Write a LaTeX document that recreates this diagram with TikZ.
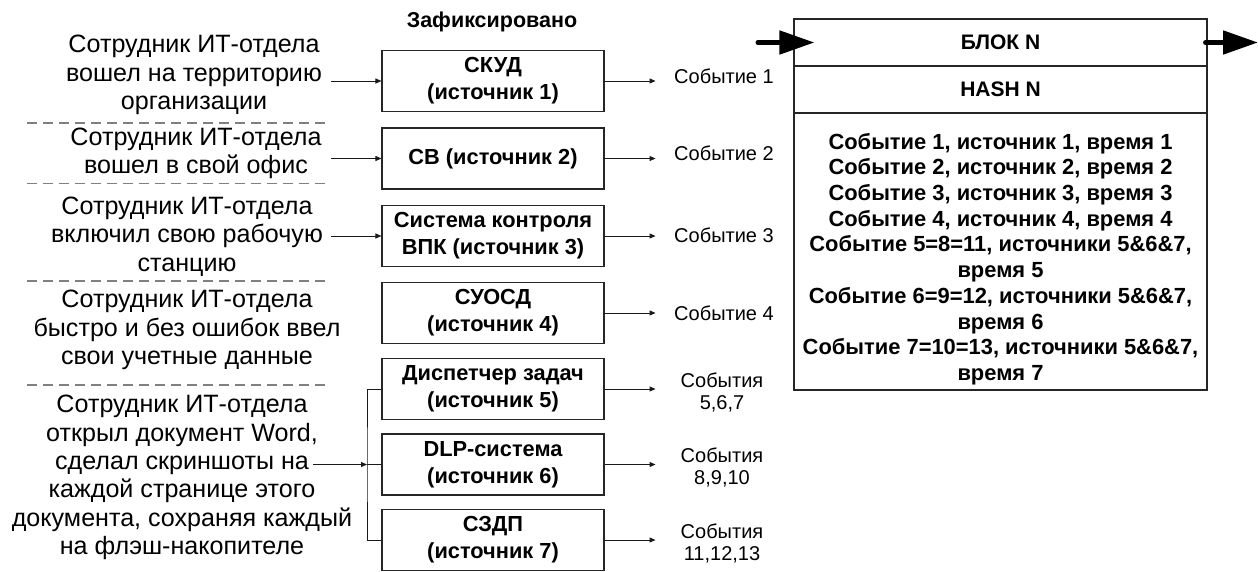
\documentclass[tikz,border=0pt]{standalone}
\usepackage{fontspec}
\setmainfont{Liberation Sans}
\usetikzlibrary{arrows.meta}
\begin{document}
\begin{tikzpicture}[x=1pt,y=-1pt,
  srcbox/.style={draw=black!85, line width=1.1pt, minimum width=222pt, minimum height=61pt, inner sep=0pt, align=center, font=\fontsize{21.8}{27}\selectfont\bfseries},
  lefttext/.style={align=center, inner sep=0pt, font=\fontsize{25.1}{28.3}\selectfont},
  evt/.style={align=center, inner sep=0pt, font=\fontsize{20}{22}\selectfont},
  conn/.style={line width=0.9pt, draw=black!90},
  thinarrow/.style={conn, -{Triangle[length=6pt,width=5pt]}},
  sepline/.style={draw=black!50, line width=1.2pt, dash pattern=on 10pt off 6pt},
  blk/.style={draw=black!85, line width=1.1pt, minimum width=413pt, inner sep=0pt, font=\fontsize{21}{25}\selectfont\bfseries},
  bodytxt/.style={align=center, inner sep=0pt, font=\fontsize{21.9}{25.7}\selectfont\bfseries},
  bigarrow/.style={line width=5pt, line cap=round, -{Triangle[length=35pt,width=23pt]}}
]
\useasboundingbox (0,0) rectangle (1258,571);

% header
\node[font=\fontsize{21.5}{24}\selectfont\bfseries] (hdr) at (492,22) {Зафиксировано};

% source boxes
\node[srcbox] (s1) at (493,81) {СКУД\\(источник 1)};
\node[srcbox] (s2) at (493,158.5) {СВ (источник 2)};
\node[srcbox] (s3) at (493,236) {Система контроля\\ВПК (источник 3)};
\node[srcbox] (s4) at (493,313) {СУОСД\\(источник 4)};
\node[srcbox] (s5) at (493,389) {Диспетчер задач\\(источник 5)};
\node[srcbox] (s6) at (493,464.5) {DLP-система\\(источник 6)};
\node[srcbox] (s7) at (493,540) {СЗДП\\(источник 7)};

% left texts
\node[lefttext] (t1) at (194,75) {Сотрудник ИТ-отдела\\вошел на территорию\\организации};
\node[lefttext] (t2) at (196,153) {Сотрудник ИТ-отдела\\вошел в свой офис};
\node[lefttext] (t3) at (187,236.5) {Сотрудник ИТ-отдела\\включил свою рабочую\\станцию};
\node[lefttext] (t4) at (187,330) {Сотрудник ИТ-отдела\\быстро и без ошибок ввел\\свои учетные данные};
\node[lefttext] (t5) at (182,477.5) {Сотрудник ИТ-отдела\\открыл документ Word,\\сделал скриншоты на\\каждой странице этого\\документа, сохраняя каждый\\на флэш-накопителе};

% separators
\foreach \yy in {123,183.5,281,385}{
  \draw[sepline] (27,\yy) -- (330,\yy);
}

% input arrows
\coordinate (a1) at (331,81);
\coordinate (a2) at (331,158.5);
\coordinate (a3) at (331,236);
\coordinate (a5) at (313,464.5);
\coordinate (br) at (367,464.5);
\draw[thinarrow] (a1) -- (s1.west);
\draw[thinarrow] (a2) -- (s2.west);
\draw[thinarrow] (a3) -- (s3.west);
\draw[thinarrow] (a5) -- (br);
\draw[conn] (s5.west) -| (br) |- (s7.west);
\draw[conn] (br) -- (s6.west);

% event labels
\node[evt] (e1) at (724,76) {Событие 1};
\node[evt] (e2) at (724,153) {Событие 2};
\node[evt] (e3) at (724,235) {Событие 3};
\node[evt] (e4) at (724,313) {Событие 4};
\node[evt] (e5) at (722,392) {События\\5,6,7};
\node[evt] (e6) at (722,467) {События\\8,9,10};
\node[evt] (e7) at (722,543) {События\\11,12,13};

\foreach \i in {1,...,7}{
  \draw[thinarrow] (s\i.east) -- ([xshift=51pt]s\i.east);
}

% block
\node[blk, minimum height=47pt] (bN) at (1000.5,42.5) {БЛОК N};
\node[blk, minimum height=47pt] (hN) at (1000.5,89.5) {HASH N};
\node[blk, minimum height=277pt] (body) at (1000.5,251.5) {};
\node[bodytxt] (evlist) at (1000.5,259) {Событие 1, источник 1, время 1\\Событие 2, источник 2, время 2\\Событие 3, источник 3, время 3\\Событие 4, источник 4, время 4\\Событие 5=8=11, источники 5\&6\&7,\\время 5\\Событие 6=9=12, источники 5\&6\&7,\\время 6\\Событие 7=10=13, источники 5\&6\&7,\\время 7};

\coordinate (inA) at (758,42.5);
\coordinate (outA) at (1258,42.5);
\draw[bigarrow] (inA) -- ([xshift=21pt]bN.west);
\draw[bigarrow] ([xshift=-2pt]bN.east) -- (outA);
\end{tikzpicture}
\end{document}
